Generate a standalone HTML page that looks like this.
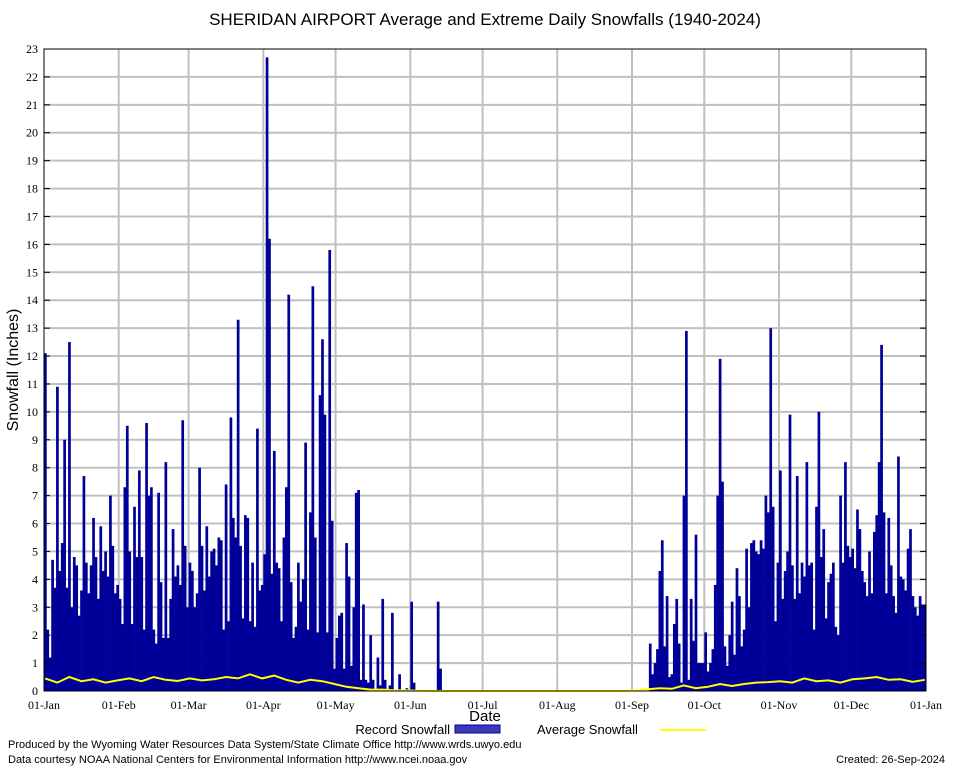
<!DOCTYPE html>
<html><head><meta charset="utf-8">
<style>
html,body{margin:0;padding:0;background:#fff;}
svg{display:block;font-family:"Liberation Serif",serif;}
</style></head>
<body>
<svg id="chart" width="954" height="768" viewBox="0 0 954 768" xmlns="http://www.w3.org/2000/svg">
<rect x="0" y="0" width="954" height="768" fill="#fff"/>
<text x="485" y="25" text-anchor="middle" font-family="Liberation Sans, sans-serif" font-size="17">SHERIDAN AIRPORT Average and Extreme Daily Snowfalls (1940-2024)</text>
<g id="grid"></g>
<g id="bars"></g>
<g id="avg"></g>
<g id="axes"></g>
<text transform="translate(18,370) rotate(-90)" text-anchor="middle" font-family="Liberation Sans, sans-serif" font-size="16">Snowfall (Inches)</text>
<text x="485" y="721" text-anchor="middle" font-family="Liberation Sans, sans-serif" font-size="15">Date</text>
<g font-family="Liberation Sans, sans-serif" font-size="13">
<text x="450" y="734" text-anchor="end">Record Snowfall</text>
<rect x="455" y="725" width="45" height="8" fill="#3a3ab8" stroke="#000099"/>
<text x="537" y="734">Average Snowfall</text>
<line x1="660" y1="730" x2="706" y2="730" stroke="#ffff00" stroke-width="2"/>
</g>
<g font-family="Liberation Sans, sans-serif" font-size="11">
<text x="8" y="748">Produced by the Wyoming Water Resources Data System/State Climate Office http://www.wrds.uwyo.edu</text>
<text x="8" y="763">Data courtesy NOAA National Centers for Environmental Information http://www.ncei.noaa.gov</text>
<text x="945" y="763" text-anchor="end">Created:  26-Sep-2024</text>
</g>
</svg>
<script>
const monthLabels=["01-Jan","01-Feb","01-Mar","01-Apr","01-May","01-Jun","01-Jul","01-Aug","01-Sep","01-Oct","01-Nov","01-Dec","01-Jan"];
const monthStarts=[0,31,60,91,121,152,182,213,244,274,305,335,366];
const yTicks=[0,1,2,3,4,5,6,7,8,9,10,11,12,13,14,15,16,17,18,19,20,21,22,23];
const recJan=[12.1,2.2,1.2,4.7,3.7,10.9,4.3,5.3,9.0,3.7,12.5,3.0,4.8,4.5,2.7,3.6,7.7,4.6,3.5,4.5,6.2,4.8,3.3,5.9,4.3,5.0,4.1,7.0,5.2,3.5,3.8];
const recFeb=[3.3,2.4,7.3,9.5,5.0,2.4,6.6,4.8,7.9,4.8,2.2,9.6,7.0,7.3,2.2,1.7,7.1,3.9,1.9,8.2,1.9,3.3,5.8,4.1,4.5,3.8,9.7,5.2,3.0];
const recMar=[4.6,4.3,3.0,3.5,8.0,5.2,3.6,5.9,4.1,5.0,5.1,4.5,5.5,5.4,2.2,7.4,2.5,9.8,6.2,5.5,13.3,5.2,2.6,6.3,6.2,2.5,4.6,2.3,9.4,3.6,3.8];
const recApr=[4.9,22.7,16.2,4.2,8.6,4.6,4.4,2.5,5.5,7.3,14.2,3.9,1.9,2.3,4.6,3.2,4.0,8.9,2.2,6.4,14.5,5.5,2.1,10.6,12.6,9.9,2.1,15.8,6.1,0.8];
const recMay=[1.9,2.7,2.8,0.8,5.3,4.1,0.9,3.0,7.1,7.2,0.4,3.1,0.4,0.3,2.0,0.4,0,1.2,0.2,3.3,0.4,0,0.2,2.8,0,0,0.6,0,0,0.1,0];
const recJun=[3.2,0.3,0,0,0,0,0,0,0,0,0,3.2,0.8,0,0,0,0,0,0,0,0,0,0,0,0,0,0,0,0,0];
const recJul=[0,0,0,0,0,0,0,0,0,0,0,0,0,0,0,0,0,0,0,0,0,0,0,0,0,0,0,0,0,0,0];
const recAug=[0,0,0,0,0,0,0,0,0,0,0,0,0,0,0,0,0,0,0,0,0,0,0,0,0,0,0,0,0,0,0];
const recSep=[0,0,0,0,0,0,0,1.7,0.6,1.0,1.5,4.3,5.4,1.6,3.4,0.5,0.6,2.4,3.3,1.7,0.3,7.0,12.9,0.4,3.3,1.8,5.6,1.0,1.0,1.0];
const recOct=[2.1,0.7,1.0,1.5,3.8,7.0,11.9,7.5,1.6,0.9,2.0,3.2,1.3,4.4,3.4,1.6,2.2,5.1,3.0,5.3,5.4,5.0,4.9,5.4,5.1,7.0,6.4,13.0,6.6,2.5,4.6];
const recNov=[7.9,3.3,4.3,5.0,9.9,4.5,3.3,7.7,3.5,4.6,4.1,8.2,4.5,4.6,2.2,6.6,10.0,4.8,5.8,2.6,3.9,4.2,4.6,2.3,2.0,7.0,4.6,8.2,5.2,4.8];
const recDec=[5.1,4.4,6.5,5.8,4.3,3.9,3.4,5.0,3.5,5.7,6.3,8.2,12.4,6.4,3.5,6.2,4.5,3.4,2.8,8.4,4.1,4.0,3.6,5.1,5.8,3.4,3.0,2.7,3.4,3.1,3.1];
// average snowfall, one value every 5 days (day 0,5,...,365)
const avgSnow=[0.45,0.3,0.5,0.35,0.42,0.3,0.38,0.45,0.35,0.5,0.4,0.36,0.45,0.38,0.42,0.5,0.45,0.6,0.45,0.55,0.4,0.3,0.4,0.35,0.25,0.15,0.1,0.05,0.05,0.02,0.02,0.01,0,0,0,0,0,0,0,0,0,0,0,0,0,0,0,0,0,0.02,0.06,0.1,0.08,0.2,0.1,0.15,0.25,0.18,0.25,0.3,0.32,0.35,0.3,0.45,0.35,0.38,0.3,0.42,0.45,0.5,0.4,0.42,0.33,0.4];
const record=[].concat(recJan,recFeb,recMar,recApr,recMay,recJun,recJul,recAug,recSep,recOct,recNov,recDec);

const X0=44,X1=926,Y0=691,YT=49,YMAX=23,NDAYS=366;
const xS=d=>X0+d*(X1-X0)/NDAYS;
const yS=v=>Y0-v*(Y0-YT)/YMAX;
const NS="http://www.w3.org/2000/svg";
function mk(tag,attrs,parent){const e=document.createElementNS(NS,tag);for(const k in attrs)e.setAttribute(k,attrs[k]);parent.appendChild(e);return e;}
const grid=document.getElementById('grid'),bars=document.getElementById('bars'),avg=document.getElementById('avg'),axes=document.getElementById('axes');

yTicks.forEach(t=>{
  if(t>0&&t<YMAX){const g=mk('line',{x1:X0,x2:X1,y1:yS(t),y2:yS(t),stroke:'#c0c0c0','stroke-width':2},grid);
  
  }
  const tl=mk('text',{x:X0-6,y:yS(t)+4,'text-anchor':'end','font-size':12},axes);
  tl.textContent=t;
  
  
  mk('line',{x1:X0,x2:X0+6,y1:yS(t),y2:yS(t),stroke:'#000'},axes);
  mk('line',{x1:X1-6,x2:X1,y1:yS(t),y2:yS(t),stroke:'#000'},axes);
});
monthStarts.forEach((d,i)=>{
  if(i>0&&i<monthStarts.length-1){const g=mk('line',{x1:xS(d),x2:xS(d),y1:YT,y2:Y0,stroke:'#c0c0c0','stroke-width':2},grid);
  
  }
  const tl=mk('text',{x:xS(d),y:Y0+18,'text-anchor':'middle','font-size':12},axes);
  tl.textContent=monthLabels[i];
  
  
});
record.forEach((v,d)=>{
  if(v<=0)return;
  const r=mk('rect',{x:xS(d),y:yS(v),width:xS(d+1)-xS(d)+0.3,height:Y0-yS(v),fill:'#000099'},bars);
  
  
});
const pts=avgSnow.map((v,i)=>xS(Math.min(i*5,365)+0.5).toFixed(1)+','+yS(v).toFixed(1)).join(' ');
const pl=mk('polyline',{points:pts,fill:'none',stroke:'#ffff00','stroke-width':2},avg);


const fr=mk('rect',{x:X0,y:YT,width:X1-X0,height:Y0-YT,fill:'none',stroke:'#000','stroke-width':1},axes);


</script>
</body></html>
